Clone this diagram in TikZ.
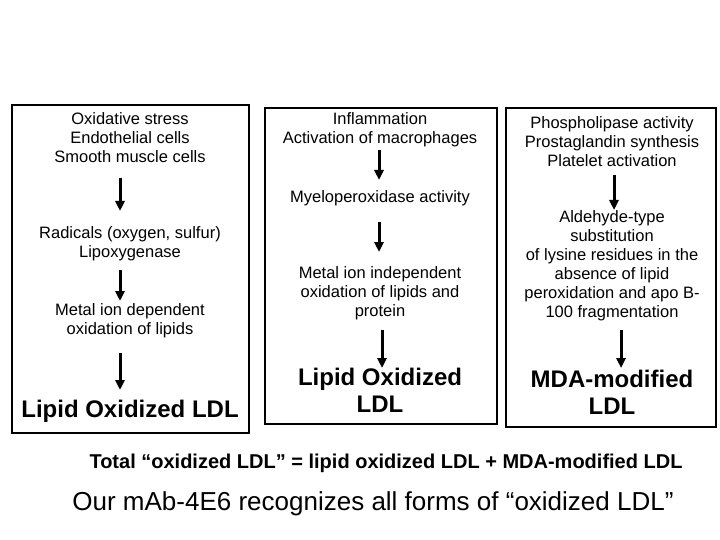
\documentclass[tikz,border=0pt]{standalone}
\usepackage{fontspec}
\setmainfont{Liberation Sans}
\usetikzlibrary{arrows.meta}
\begin{document}
\begin{tikzpicture}[x=1pt,y=-1pt,
    box/.style={draw=black, line width=2.5pt},
    txt/.style={font=\fontsize{16.5}{19}\selectfont, align=center, inner sep=0pt},
    big/.style={font=\fontsize{24}{27}\selectfont\bfseries, align=center, inner sep=0pt},
    arr/.style={-{Triangle[length=10pt,width=9pt]}, line width=3pt}]
\useasboundingbox (0,0) rectangle (720,540);
\fill[white] (0,0) rectangle (720,540);
% boxes
\draw[box] (12,105) rectangle (249,433);
\draw[box] (265,108) rectangle (497,424);
\draw[box] (506,108) rectangle (716,427);
% column 1
\node[txt] (a1) at (130,138) {Oxidative stress\\Endothelial cells\\Smooth muscle cells};
\node[txt] (a2) at (130,244) {Radicals (oxygen, sulfur)\\Lipoxygenase};
\node[txt] (a3) at (130,321) {Metal ion dependent\\oxidation of lipids};
\node[big] (a4) at (130,411) {Lipid Oxidized LDL};
\coordinate (a1s) at (120,178); \coordinate (a1e) at (120,211);
\draw[arr] (a1s) -- (a1e);
\coordinate (a2s) at (120,270); \coordinate (a2e) at (120,301);
\draw[arr] (a2s) -- (a2e);
\coordinate (a3s) at (120,353); \coordinate (a3e) at (120,390);
\draw[arr] (a3s) -- (a3e);
% column 2
\node[txt] (b1) at (380,130) {Inflammation\\Activation of macrophages};
\node[txt] (b2) at (380,198) {Myeloperoxidase activity};
\node[txt] (b3) at (380,293) {Metal ion independent\\oxidation of lipids and\\protein};
\node[big] (b4) at (380,390) {Lipid Oxidized\\LDL};
\coordinate (b1s) at (379,150); \coordinate (b1e) at (379,180);
\draw[arr] (b1s) -- (b1e);
\coordinate (b2s) at (379,222); \coordinate (b2e) at (379,252);
\draw[arr] (b2s) -- (b2e);
\coordinate (b3s) at (382,330); \coordinate (b3e) at (382,368);
\draw[arr] (b3s) -- (b3e);
% column 3
\node[txt] (c1) at (612,142) {Phospholipase activity\\Prostaglandin synthesis\\Platelet activation};
\node[txt] (c2) at (612,266) {Aldehyde-type\\substitution\\of lysine residues in the\\absence of lipid\\peroxidation and apo B-\\100 fragmentation};
\node[big] (c3) at (612,392) {MDA-modified\\LDL};
\coordinate (c1s) at (614,175); \coordinate (c1e) at (614,210);
\draw[arr] (c1s) -- (c1e);
\coordinate (c2s) at (621,330); \coordinate (c2e) at (621,368);
\draw[arr] (c2s) -- (c2e);
% bottom lines
\node[inner sep=0pt, font=\fontsize{20}{24}\selectfont\bfseries] (t1) at (386,463) {Total “oxidized LDL” = lipid oxidized LDL + MDA-modified LDL};
\node[inner sep=0pt, font=\fontsize{26}{30}\selectfont] (t2) at (373,504) {Our mAb-4E6 recognizes all forms of “oxidized LDL”};
\end{tikzpicture}
\end{document}
